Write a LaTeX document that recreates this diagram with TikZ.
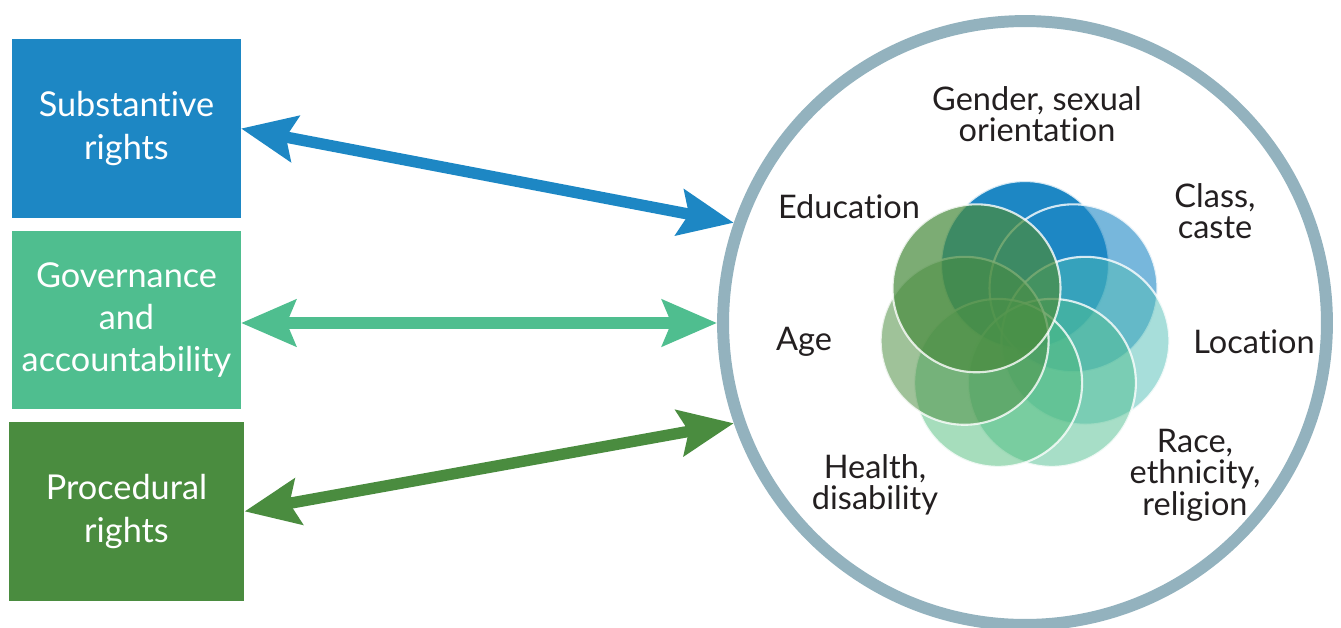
\documentclass[tikz,border=0pt]{standalone}
\usepackage{fontspec}
\setmainfont{Lato}[Ligatures={NoCommon}]
\usepackage{tikz}
\usetikzlibrary{arrows.meta,positioning}

\definecolor{subblue}{HTML}{1D87C4}
\definecolor{govgreen}{HTML}{4FBE8F}
\definecolor{procgreen}{HTML}{4A8C3F}
\definecolor{ringgray}{HTML}{93B2BE}
\definecolor{locteal}{HTML}{50BDB5}
\definecolor{healthgreen}{HTML}{4DBB7A}
\definecolor{labelink}{HTML}{231F20}

\begin{document}
\begin{tikzpicture}[x=0.02cm,
            y=-0.02cm,
            >={Stealth[length=31pt,width=26pt,inset=5pt]},
            node distance=0.26cm,
            box/.style={rectangle, minimum width=4.58cm, minimum height=3.57cm,
                        outer sep=0pt, inner sep=0pt, text=white, align=center,
                        font=\fontsize{19.5}{24}\selectfont},
            ring/.style={circle, draw=ringgray, line width=6.8pt,
                         minimum size=12.08cm, inner sep=0pt},
            petal/.style={circle, minimum size=3.36cm, inner sep=0pt,
                          draw=white, line width=1.2pt, draw opacity=0.8},
            factor/.style={text=labelink, align=center,
                           font=\fontsize{18.5}{18}\selectfont},
            link/.style={<->, line width=6.5pt}]

        \useasboundingbox (0,0) rectangle (1341,628);

        \node[box, fill=subblue]                      (sub)  at (126.5,128.5) {Substantive\\rights};
        \node[box, fill=govgreen]                     (gov)  [below=of sub]   {Governance\\and\\accountability};
        \node[box, fill=procgreen, minimum width=4.72cm] (proc) [below=of gov] {Procedural\\rights};

        \node[ring] (ring) at (1025,323) {};

        \node[petal, fill=subblue]                         (pgender) at (1025,265)     {};
        \node[petal, fill=subblue, fill opacity=0.6]       (pclass)  at (1073.5,288.3) {};
        \node[petal, fill=locteal, fill opacity=0.5]       (ploc)    at (1085.4,340.8) {};
        \node[petal, fill=govgreen, fill opacity=0.5]      (prace)   at (1051.9,382.9) {};
        \node[petal, fill=healthgreen, fill opacity=0.5]   (phealth) at (998.1,382.9)  {};
        \node[petal, fill=procgreen, fill opacity=0.53]    (page)    at (964.6,340.8)  {};
        \node[petal, fill=procgreen, fill opacity=0.72]    (peduc)   at (976.5,288.3)  {};

        \node[factor] (lgender) at (1037,114) {Gender, sexual\\orientation};
        \node[factor] (lclass)  at (1215,211) {Class,\\caste};
        \node[factor] (lloc)    at (1254,342) {Location};
        \node[factor] (lrace)   at (1195,475) {Race,\\ethnicity,\\religion};
        \node[factor] (lhealth) at (875,485)  {Health,\\disability};
        \node[factor] (lage)    at (804,342)  {Age};
        \node[factor] (leduc)   at (849,207)  {Education};

        \path (sub.east)              edge [link, subblue]   (ring.161)
              (gov.east |- ring.west) edge [link, govgreen]  (ring.west)
              (proc.east)             edge [link, procgreen] (ring.199);

    \end{tikzpicture}
\end{document}
